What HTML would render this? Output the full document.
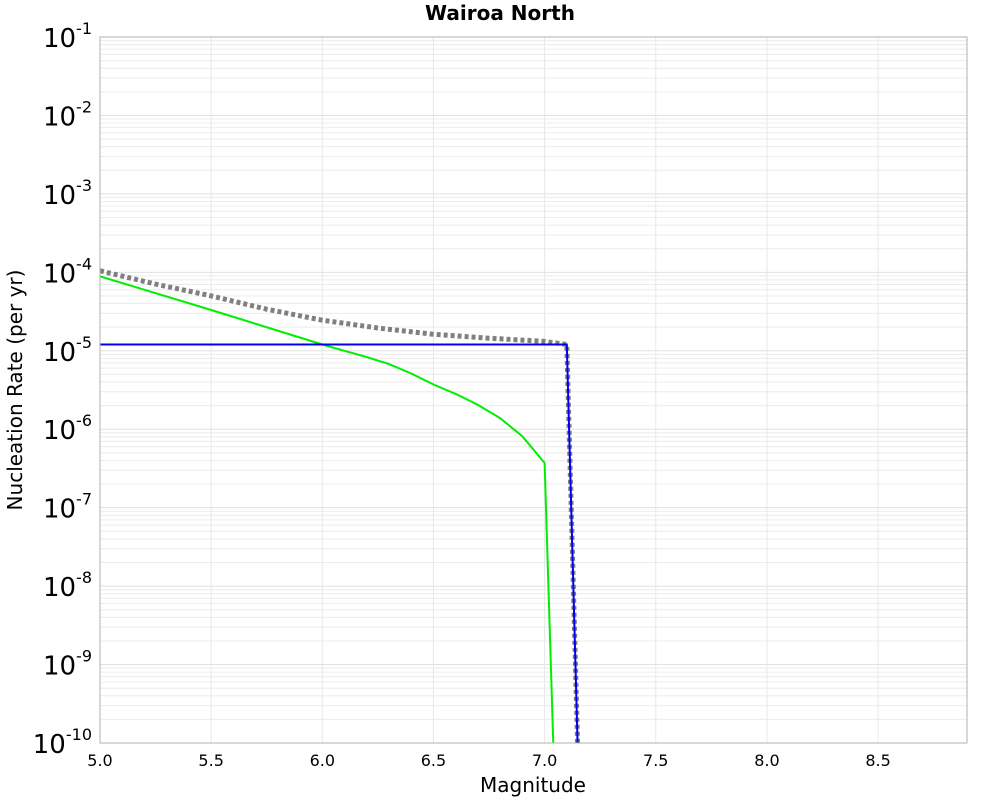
<!DOCTYPE html>
<html><head><meta charset="utf-8"><style>body{margin:0;background:#fff}svg{display:block;font-family:"DejaVu Sans","Liberation Sans",sans-serif}</style></head>
<body>
<svg id="c" width="1000" height="800">
<text x="500" y="20" text-anchor="middle" font-size="20" font-weight="bold">Wairoa North</text>
<text x="533" y="792" text-anchor="middle" font-size="20">Magnitude</text>
<text transform="translate(22,390) rotate(-90)" text-anchor="middle" font-size="20">Nucleation Rate (per yr)</text>
<defs><clipPath id="cp"><rect x="100" y="37" width="867" height="706"/></clipPath></defs>
<g id="grid"></g><g id="series" clip-path="url(#cp)"></g><g id="axes"></g>
</svg>
<script>
const xTicks=[5.0,5.5,6.0,6.5,7.0,7.5,8.0,8.5];
const yExps=[-1,-2,-3,-4,-5,-6,-7,-8,-9,-10];
const greenM=[5.0,5.5,6.0,6.1,6.2,6.3,6.4,6.5,6.6,6.7,6.8,6.9,7.0,7.04];
const greenLog=[-4.05,-4.48,-4.92,-5.00,-5.08,-5.17,-5.29,-5.43,-5.55,-5.69,-5.86,-6.09,-6.43,-10.1];
const grayM=[5.0,5.25,5.5,5.75,6.0,6.25,6.5,6.75,7.0,7.1,7.15];
const grayLog=[-3.98,-4.15,-4.30,-4.47,-4.61,-4.71,-4.79,-4.84,-4.88,-4.92,-10.2];
const blueM=[5.0,7.1,7.15];
const blueLog=[-4.92,-4.92,-10.2];
const X0=100,X1=967,Y0=37,Y1=743;
const xs=m=>X0+(m-5.0)*(X1-X0)/3.9;
const ys=l=>Y0+(-1-l)*(Y1-Y0)/9;
const NS='http://www.w3.org/2000/svg';
function mk(t,a,p){const e=document.createElementNS(NS,t);for(const k in a)e.setAttribute(k,a[k]);p.appendChild(e);return e;}
const grid=document.getElementById('grid'),ser=document.getElementById('series'),axes=document.getElementById('axes');
for(let d=-10;d<-1;d++){for(let k=2;k<10;k++){const y=ys(d+Math.log10(k));
const l=mk('line',{x1:X0,x2:X1,y1:y,y2:y,stroke:'#ececec','stroke-width':1},grid);

}}
yExps.forEach(e=>{const y=ys(e);
const l=mk('line',{x1:X0,x2:X1,y1:y,y2:y,stroke:'#e0e0e0','stroke-width':1},grid);


const t=mk('text',{x:92,y:y+10,'text-anchor':'end','font-size':26},axes);


t.innerHTML='10<tspan dy="-13" font-size="16">'+e+'</tspan>';});
xTicks.forEach(m=>{const x=xs(m);
const l=mk('line',{x1:x,x2:x,y1:Y0,y2:Y1,stroke:'#e8e8e8','stroke-width':1},grid);


const t=mk('text',{x:x,y:766,'text-anchor':'middle','font-size':16},axes);


t.textContent=m.toFixed(1);});
const fr=mk('rect',{x:X0,y:Y0,width:X1-X0,height:Y1-Y0,fill:'none',stroke:'#b0b0b0','stroke-width':1},axes);


function line(M,L,st,w,dash,name){const pts=M.map((m,i)=>xs(m).toFixed(1)+','+ys(L[i]).toFixed(1)).join(' ');
const p=mk('polyline',{points:pts,fill:'none',stroke:st,'stroke-width':w},ser);
if(dash)p.setAttribute('stroke-dasharray',dash);

}
line(grayM,grayLog,'#808080',5,'4,3','gray-total-series');
line(greenM,greenLog,'#00ee00',2,null,'green-series');
line(blueM,blueLog,'#0000ee',2,null,'blue-series');
</script>
</body></html>
